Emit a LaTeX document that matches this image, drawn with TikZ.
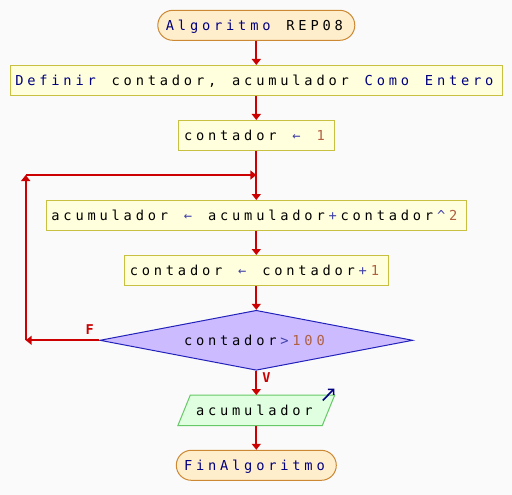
\documentclass[tikz,border=0pt]{standalone}
\usepackage{fontspec}
\newfontfamily\codefont{DejaVu Sans Mono}
\newfontfamily\lblfont{DejaVu Sans Mono}
\usetikzlibrary{arrows.meta,shapes.geometric,backgrounds}
\definecolor{bg}{RGB}{250,250,250}
\definecolor{flowred}{RGB}{204,0,0}
\definecolor{boxfill}{RGB}{255,255,221}
\definecolor{boxdraw}{RGB}{200,192,64}
\definecolor{termfill}{RGB}{255,238,204}
\definecolor{termdraw}{RGB}{204,136,51}
\definecolor{decfill}{RGB}{204,187,255}
\definecolor{decdraw}{RGB}{34,34,187}
\definecolor{parafill}{RGB}{224,255,224}
\definecolor{paradraw}{RGB}{102,200,102}
\definecolor{kw}{RGB}{0,0,128}
\definecolor{op}{RGB}{64,64,170}
\definecolor{num}{RGB}{176,96,64}
\newcommand{\cf}{\codefont\fontsize{13.7}{16}\selectfont}
\ExplSyntaxOn
\dim_new:N \g_mypitch_dim
\dim_gset:Nn \g_mypitch_dim {12.05pt}
\NewDocumentCommand \mono { m }
  { \tl_map_inline:nn {#1} { \hbox_to_wd:nn { \g_mypitch_dim } { ##1 \hss } } }
\ExplSyntaxOff
\tikzset{
  flow/.style={draw=flowred, line width=2pt, -{Triangle[length=6pt,width=9pt]}},
  box/.style={draw=boxdraw, fill=boxfill, line width=1pt, minimum height=30pt,
    inner sep=0pt, text height=11pt, text depth=1pt, font=\cf},
  term/.style={box, draw=termdraw, fill=termfill, rounded corners=15pt},
  decbox/.style={shape=diamond, draw=decdraw, fill=decfill, line width=1pt,
    minimum width=313pt, minimum height=60pt, aspect=5, inner sep=0pt,
    text height=11pt, text depth=1pt, font=\cf},
  iobox/.style={minimum width=144pt, minimum height=30pt, inner sep=0pt,
    text height=11pt, text depth=1pt, font=\cf},
  para/.style={draw=paradraw, fill=parafill, line width=1pt},
  lbl/.style={inner sep=0pt, text=flowred, font=\lblfont\bfseries\fontsize{13.5}{15}\selectfont},
  icon/.style={draw=kw, line width=1.6pt, -{Straight Barb[length=4pt,width=8pt]}}
}
\begin{document}
\begin{tikzpicture}[x=1pt,y=-1pt]
\useasboundingbox (0,0) rectangle (512,495);
\node[term, minimum width=197pt] (start) at (256.3,25.3)
  {\textcolor{kw}{\mono{Algoritmo~}}\mono{REP08}};
\node[box, minimum width=492pt] (def) at (256.3,80.5)
  {\textcolor{kw}{\mono{Definir~}}\mono{contador,~acumulador~}\textcolor{kw}{\mono{Como~Entero}}};
\node[box, minimum width=156pt] (c1) at (256.3,135.5)
  {\mono{contador~}\textcolor{op}{\mono{←~}}\textcolor{num}{\mono{1}}};
\node[box, minimum width=420pt] (acc) at (256.3,215.5)
  {\mono{acumulador~}\textcolor{op}{\mono{←~}}\mono{acumulador}\textcolor{op}{\mono{+}}\mono{contador}\textcolor{op}{\mono{\textasciicircum}}\textcolor{num}{\mono{2}}};
\node[box, minimum width=264pt] (inc) at (256.3,270.5)
  {\mono{contador~}\textcolor{op}{\mono{←~}}\mono{contador}\textcolor{op}{\mono{+}}\textcolor{num}{\mono{1}}};
\node[decbox] (dec) at (256.3,340.3)
  {\mono{contador}\textcolor{op}{\mono{>}}\textcolor{num}{\mono{100}}};
\node[iobox] (out) at (256.3,410.3) {\mono{acumulador}};
\node[term, minimum width=160pt] (end) at (256.3,465.3) {\textcolor{kw}{\mono{FinAlgoritmo}}};
\begin{scope}[on background layer]
\fill[bg] (0,0) rectangle (512,495);
\filldraw[para] ([xshift=-6.2pt]out.south west) -- ([xshift=6.2pt]out.north west)
  -- ([xshift=6.2pt]out.north east) -- ([xshift=-6.2pt]out.south east) -- cycle;
\end{scope}
\coordinate (lb) at (25.7,340.3);
\coordinate (lt) at (25.7,175);
\coordinate (jn) at (256.3,175);
\draw[flow] (start.south) -- (def.north);
\draw[flow] (def.south) -- (c1.north);
\draw[flow] (c1.south) -- (acc.north);
\draw[flow] (acc.south) -- (inc.north);
\draw[flow] (inc.south) -- (dec.north);
\draw[flow] (dec.west) -- (lb);
\draw[flow] (lb) -- (lt);
\draw[flow] (lt) -- (jn);
\draw[flow] (dec.south) -- (out.north);
\draw[flow] (out.south) -- (end.north);
\node[lbl] (F) at (89.8,329.5) {F};
\node[lbl] (V) at (266.5,377.5) {V};
\draw[icon] ([shift={(-5.7,5.4)}]out.north east) -- ([shift={(5.9,-6.6)}]out.north east);
\end{tikzpicture}
\end{document}
